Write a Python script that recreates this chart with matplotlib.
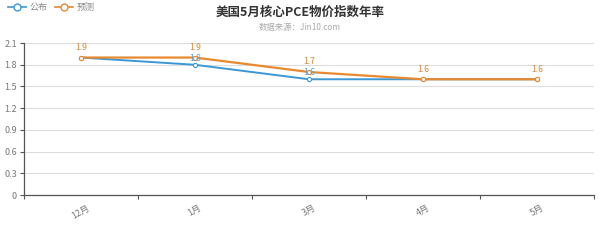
import matplotlib
matplotlib.use("Agg")
import matplotlib.pyplot as plt
from matplotlib.lines import Line2D
import numpy as np

plt.rcParams['font.family'] = ['Noto Sans CJK SC', 'DejaVu Sans']

categories = ["12月", "1月", "3月", "4月", "5月"]
actual = [1.9, 1.8, 1.6, 1.6, 1.6]
forecast = [1.9, 1.9, 1.7, 1.6, 1.6]
yticks = [0, 0.3, 0.6, 0.9, 1.2, 1.5, 1.8, 2.1]
ytick_labels = ["0", "0.3", "0.6", "0.9", "1.2", "1.5", "1.8", "2.1"]

blue = "#3b98d4"
orange = "#e8892f"
blue_lbl = "#5aa5d8"
orange_lbl = "#d9893a"

fig = plt.figure(figsize=(6, 2.42), dpi=100)
ax = fig.add_axes([0.04, 0.194, 0.95, 0.628])

x = np.arange(len(categories))
ax.plot(x, actual, color=blue, lw=1.4, marker='o', ms=3, mfc='white', mec=blue, mew=0.8, zorder=3)
ax.plot(x, forecast, color=orange, lw=1.6, marker='o', ms=3, mfc='white', mec=orange, mew=0.8, zorder=4)

for i in range(len(categories)):
    if actual[i] != forecast[i]:
        ax.annotate(f"{actual[i]:.1f}", (x[i], actual[i]), xytext=(0, 1.5), textcoords='offset points',
                    ha='center', va='bottom', fontsize=6.2, color=blue_lbl, zorder=5)
    ax.annotate(f"{forecast[i]:.1f}", (x[i], forecast[i]), xytext=(0, 4), textcoords='offset points',
                ha='center', va='bottom', fontsize=6.2, color=orange_lbl, zorder=6)

ax.set_xlim(-0.5, len(categories) - 0.5)
ax.set_ylim(0, 2.1)
ax.set_yticks(yticks)
ax.set_yticklabels(ytick_labels)
ax.set_xticks(np.arange(-0.5, len(categories)))
ax.set_xticklabels([])
ax.set_xticks(x, minor=True)
ax.set_xticklabels(categories, minor=True, rotation=30, fontsize=6.5, color="#777777")
ax.tick_params(axis='x', which='minor', length=0, pad=6)
ax.tick_params(axis='x', which='major', length=3, color="#555555")
ax.tick_params(axis='y', length=3, color="#555555", labelsize=6.5, labelcolor="#777777", pad=2)

ax.grid(axis='y', color="#dddddd", lw=0.8)
ax.set_axisbelow(True)
for s in ['top', 'right']:
    ax.spines[s].set_visible(False)
for s in ['left', 'bottom']:
    ax.spines[s].set_color("#555555")
    ax.spines[s].set_linewidth(0.9)

fig.text(0.5, 0.95, "美国5月核心PCE物价指数年率", ha='center', va='center', fontsize=9,
         fontweight='bold', color="#333333")
fig.text(0.5, 0.888, "数据来源：Jin10.com", ha='center', va='center', fontsize=6, color="#aaaaaa")

handles = [Line2D([], [], color=blue, lw=1.2, marker='o', ms=5, mfc='white', mec=blue),
           Line2D([], [], color=orange, lw=1.2, marker='o', ms=5, mfc='white', mec=orange)]
fig.legend(handles, ["公布", "预测"], loc='center left', bbox_to_anchor=(0.0, 0.97), ncol=2,
           frameon=False, fontsize=6.5, handlelength=2.0, columnspacing=0.8, handletextpad=0.4,
           labelcolor="#888888")

fig.savefig("out.png", dpi=100)
